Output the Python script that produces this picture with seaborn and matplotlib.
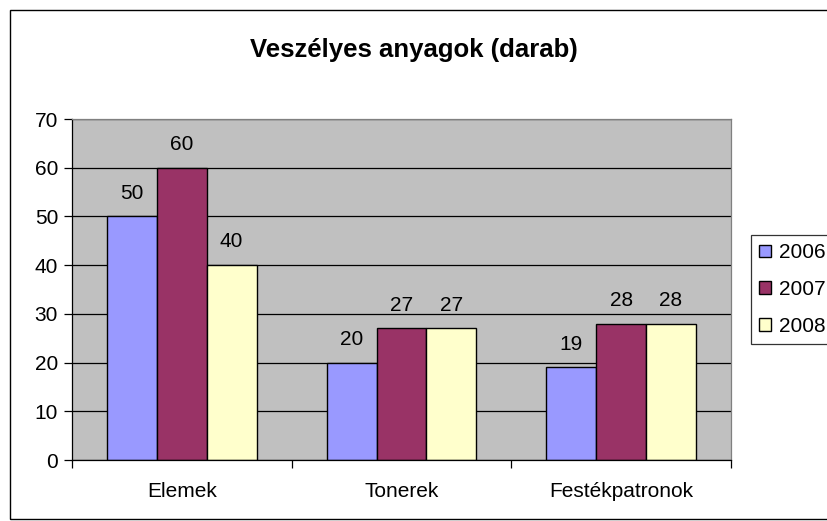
import matplotlib
matplotlib.use("Agg")
import matplotlib.pyplot as plt
import seaborn as sns
import pandas as pd
from matplotlib.patches import Rectangle, Patch

categories = ["Elemek", "Tonerek", "Festékpatronok"]
years = ["2006", "2007", "2008"]
v2006 = [50, 20, 19]
v2007 = [60, 27, 28]
v2008 = [40, 27, 28]
colors = ["#9999FF", "#993366", "#FFFFCC"]

rows = []
for y, vals in zip(years, [v2006, v2007, v2008]):
    for c, v in zip(categories, vals):
        rows.append({"cat": c, "year": y, "val": v})
df = pd.DataFrame(rows)

sns.set_theme(style="white")
plt.rcParams["font.family"] = ["Liberation Sans", "DejaVu Sans"]
plt.rcParams["text.color"] = "black"
plt.rcParams["xtick.color"] = "black"
plt.rcParams["ytick.color"] = "black"
plt.rcParams["axes.labelcolor"] = "black"

FS = 15

fig = plt.figure(figsize=(8.27, 5.21), dpi=100)
W, H = 827, 521
ax = fig.add_axes([72 / W, 1 - 460 / H, (731 - 72) / W, (460 - 119) / H])
ax.set_facecolor("#C0C0C0")

sns.barplot(data=df, x="cat", y="val", hue="year", palette=colors, width=0.68,
            edgecolor="black", linewidth=1.0, ax=ax, legend=False, saturation=1)

ax.set_ylim(0, 70)
ax.set_xlim(-0.5, 2.5)
ax.set_yticks(range(0, 71, 10))
ax.yaxis.grid(True, color="black", linewidth=0.9)
ax.set_axisbelow(True)
ax.set_xlabel("")
ax.set_ylabel("")

for cont in ax.containers:
    ax.bar_label(cont, padding=10, fontsize=FS, color="black")

ax.tick_params(axis="y", direction="out", length=6, width=0.9, color="black",
               labelsize=FS, pad=4, left=True)
ax.set_xticks([-0.5, 0.5, 1.5, 2.5], minor=True)
ax.tick_params(axis="x", which="minor", direction="out", length=6, width=0.9, color="black", bottom=True)
ax.tick_params(axis="x", which="major", length=0, labelsize=FS, pad=16)

for s in ["left", "bottom"]:
    ax.spines[s].set_color("black")
    ax.spines[s].set_linewidth(0.9)
for s in ["top", "right"]:
    ax.spines[s].set_color("#808080")
    ax.spines[s].set_linewidth(0.9)

fig.text(414 / W, 1 - 50 / H, "Veszélyes anyagok (darab)", ha="center", va="center",
         fontsize=18.5, fontweight="bold", color="black")

handles = [Patch(facecolor=c, edgecolor="black", linewidth=1.0) for c in colors]
leg = fig.legend(handles, years, loc="upper left", bbox_to_anchor=(751 / W, 1 - 235 / H),
                 frameon=True, fontsize=FS, handlelength=0.55, handleheight=0.55,
                 handletextpad=0.4, labelspacing=0.85, borderpad=0.4, borderaxespad=0,
                 fancybox=False)
leg.get_frame().set_edgecolor("black")
leg.get_frame().set_linewidth(0.9)

fig.patches.append(Rectangle((10 / W, 2 / H), 1.0, (519 - 10) / H, transform=fig.transFigure,
                             fill=False, edgecolor="black", linewidth=1.0))

fig.savefig("out.png", dpi=100)
